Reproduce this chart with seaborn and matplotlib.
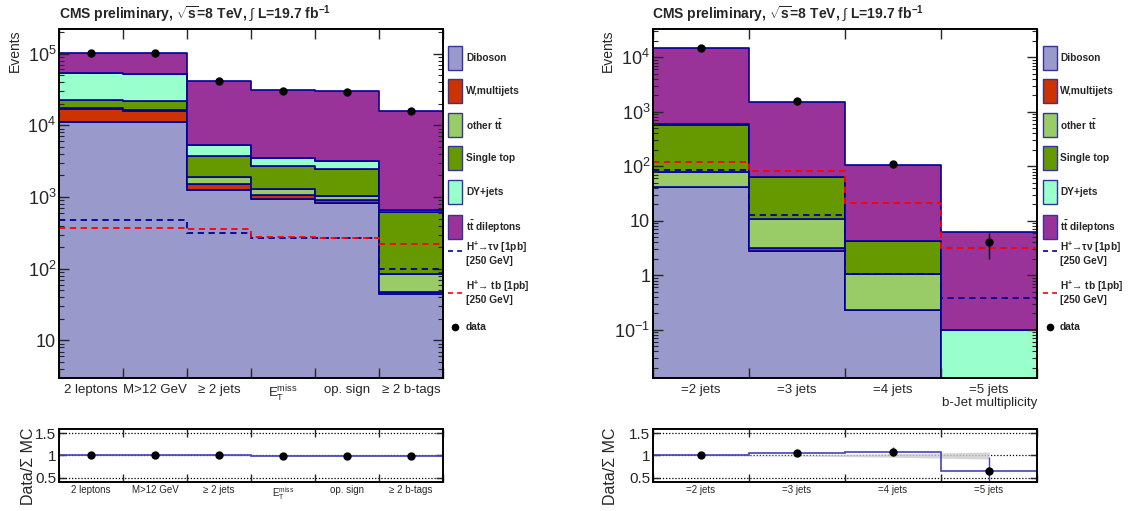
import numpy as np
import pandas as pd
import matplotlib
matplotlib.use("Agg")
import matplotlib.pyplot as plt
import seaborn as sns
from matplotlib.patches import Rectangle
from matplotlib.lines import Line2D
from matplotlib.ticker import LogLocator, NullFormatter

# ---------------- data ----------------
processes = ["Diboson", "W,multijets", "other tt", "Single top", "DY+jets", "tt dileptons"]
legend_labels = ["Diboson", "W,multijets", r"other t$\mathbf{\bar{t}}$", "Single top",
                 "DY+jets", r"t$\mathbf{\bar{t}}$ dileptons"]
colors = ["#9999cc", "#cc3300", "#99cc66", "#669900", "#99ffcc", "#993399"]

# left: cut flow
cut_labels = ["2 leptons", "M>12 GeV", "\u2265 2 jets",
              r"$\mathrm{E}_{\mathrm{T}}^{\mathrm{miss}}$", "op. sign", "\u2265 2 b-tags"]
cut_diboson = [11000, 11000, 1270, 930, 825, 44.8]
cut_wjets = [6000, 4700, 270, 150, 75, 2.2]
cut_other_tt = [500, 500, 360, 200, 130, 38]
cut_single_top = [4800, 5400, 1830, 1430, 1400, 532]
cut_dy = [32000, 31000, 1650, 790, 720, 35]
cut_tt_dilep = [48700, 49400, 36100, 27300, 26850, 15050]
cut_data = [103000, 102000, 41500, 30500, 29500, 15700]
cut_sig_taunu = [484, 484, 315, 271, 265, 98]
cut_sig_tb = [374, 374, 354, 277, 271, 219]
cut_ratio_unc = [0.003, 0.003, 0.005, 0.012, 0.012, 0.01]
cut_yticks = [10, 1e2, 1e3, 1e4, 1e5]
cut_yticklabels = ["10", r"$10^{2}$", r"$10^{3}$", r"$10^{4}$", r"$10^{5}$"]

# right: b-jet multiplicity
jet_labels = ["=2 jets", "=3 jets", "=4 jets", "=5 jets"]
jet_diboson = [41, 2.74, 0.233, 0]
jet_wjets = [1.0, 0.42, 0.0, 0]
jet_other_tt = [36, 7.5, 0.8, 0]
jet_single_top = [483, 52, 3.14, 0]
jet_dy = [31, 0.5, 0.13, 0.1]
jet_tt_dilep = [14000, 1437, 99, 6.1]
jet_data = [14600, 1570, 112, 4]
jet_sig_taunu = [84, 12.9, 1.07, 0.38]
jet_sig_tb = [118, 81, 21.1, 3.16]
jet_ratio_unc = [0.005, 0.01, 0.04, 0.08]
jet_yticks = [0.1, 1, 10, 1e2, 1e3, 1e4]
jet_yticklabels = [r"$10^{-1}$", "1", "10", r"$10^{2}$", r"$10^{3}$", r"$10^{4}$"]

ratio_yticks = [0.5, 1, 1.5]
ratio_yticklabels = ["0.5", "1", "1.5"]

title_text = r"CMS preliminary, $\mathbf{\sqrt{s}}$=8 TeV, $\int$ L=19.7 fb$^{\mathbf{-1}}$"

# ---------------- style ----------------
sns.set_theme(style="ticks")
plt.rcParams["font.family"] = ["Liberation Sans", "DejaVu Sans"]
plt.rcParams["mathtext.fontset"] = "custom"
plt.rcParams["mathtext.rm"] = "Liberation Sans"
plt.rcParams["mathtext.it"] = "Liberation Sans:italic"
plt.rcParams["mathtext.bf"] = "Liberation Sans:bold"
plt.rcParams["axes.linewidth"] = 1.4
plt.rcParams["axes.axisbelow"] = False

W, H = 1129, 511
fig = plt.figure(figsize=(W / 100, H / 100), dpi=100)
fig.patch.set_facecolor("white")

EDGE = "#000099"
SIG_BLUE = "#000099"
SIG_RED = "#ff0000"
RATIO_BLUE = "#4444bb"


def fx(p):
    return p / W


def fy(p):
    return 1 - p / H


def add_px_axes(x0, y0, x1, y1):
    return fig.add_axes([fx(x0), fy(y1), (x1 - x0) / W, (y1 - y0) / H])


def style_spines(ax):
    ax.set_axisbelow(False)
    for s in ax.spines.values():
        s.set_visible(True)
        s.set_color("black")
        s.set_zorder(10)


def draw_main(ax, comps, data, sig_taunu, sig_tb, ylim, yticks, yticklabels, xlabels):
    n = len(data)
    edges = np.arange(n + 1)
    centers = edges[:-1] + 0.5
    rows = []
    for proc, vals in zip(processes, comps):
        for c, v in zip(centers, vals):
            rows.append({"bin": c, "events": v, "process": proc})
    df = pd.DataFrame(rows)
    ax.set_yscale("log")
    sns.histplot(data=df, x="bin", weights="events", hue="process",
                 hue_order=processes[::-1], palette=dict(zip(processes, colors)),
                 multiple="stack", element="step", bins=[float(e) for e in edges],
                 fill=True, alpha=1, edgecolor=EDGE, linewidth=1.2, legend=False, ax=ax)
    ax.stairs(sig_taunu, edges, baseline=None, color=SIG_BLUE, lw=1.3,
              linestyle=(0, (3.5, 2.5)), zorder=5)
    ax.stairs(sig_tb, edges, baseline=None, color=SIG_RED, lw=1.3,
              linestyle=(0, (3.5, 2.5)), zorder=5)
    ax.errorbar(centers, data, yerr=np.sqrt(np.array(data, float)), fmt="o",
                color="black", ms=5, elinewidth=1.0, capsize=0, zorder=6)
    ax.set_xlim(0, n)
    ax.set_ylim(*ylim)
    ax.set_yticks(yticks)
    ax.set_yticklabels(yticklabels)
    ax.yaxis.set_minor_locator(LogLocator(base=10, subs=np.arange(2, 10), numticks=100))
    ax.yaxis.set_minor_formatter(NullFormatter())
    ax.set_xticks(edges)
    ax.set_xticklabels([])
    ax.set_xticks(centers, minor=True)
    ax.set_xticklabels(xlabels, minor=True)
    ax.tick_params(axis="x", which="major", direction="in", length=7, width=1.0,
                   top=True, bottom=True)
    ax.tick_params(axis="x", which="minor", length=0, labelsize=9.5, pad=4)
    ax.tick_params(axis="y", which="major", direction="in", length=7, width=1.0,
                   left=True, right=True, labelsize=13, pad=2)
    ax.tick_params(axis="y", which="minor", direction="in", length=3.5, width=0.8,
                   left=True, right=True)
    ax.set_xlabel("")
    ax.set_ylabel("")
    style_spines(ax)


def draw_ratio(ax, comps, data, unc, xlabels):
    n = len(data)
    edges = np.arange(n + 1)
    centers = edges[:-1] + 0.5
    mc = np.sum(np.array(comps, float), axis=0)
    d = np.array(data, float)
    ratio = d / mc
    rerr = np.sqrt(d) / mc
    unc = np.array(unc)
    for yv in ratio_yticks:
        ax.axhline(yv, color="black", lw=0.9, linestyle=(0, (1, 1.5)), zorder=1)
    ax.fill_between(centers, 1 - unc, 1 + unc, color="#cccccc", alpha=0.8, lw=0, zorder=2)
    ax.stairs(ratio, edges, baseline=None, color=RATIO_BLUE, lw=1.2, zorder=3)
    ax.errorbar(centers, ratio, yerr=rerr, fmt="o", color="black", ecolor=RATIO_BLUE,
                ms=5, elinewidth=1.0, capsize=0, zorder=4)
    ax.set_xlim(0, n)
    ax.set_ylim(0.4, 1.6)
    ax.set_yticks(ratio_yticks)
    ax.set_yticklabels(ratio_yticklabels)
    ax.set_xticks(edges)
    ax.set_xticklabels([])
    ax.set_xticks(centers, minor=True)
    ax.set_xticklabels(xlabels, minor=True)
    ax.tick_params(axis="x", which="major", direction="in", length=6, width=1.0,
                   top=True, bottom=True)
    ax.tick_params(axis="x", which="minor", length=0, labelsize=7, pad=2)
    ax.tick_params(axis="y", which="major", direction="in", length=5, width=1.0,
                   left=True, right=True, labelsize=11, pad=2)
    style_spines(ax)


def draw_legend(box_x0, text_x):
    centers_y = [58, 91, 125, 158, 192, 227]
    for lab, col, cy in zip(legend_labels, colors, centers_y):
        fig.add_artist(Rectangle((fx(box_x0), fy(cy + 12)), 14 / W, 24 / H,
                                 transform=fig.transFigure, facecolor=col,
                                 edgecolor="#333399", lw=1.0))
        fig.text(fx(text_x), fy(cy), lab, fontsize=7.3, fontweight="bold",
                 ha="left", va="center")
    sig = [("H$^{\\mathbf{+}}$\u2192\u03c4\u03bd [1pb]", SIG_BLUE, 251, 253),
           ("H$^{\\mathbf{+}}$\u2192 tb [1pb]", SIG_RED, 293, 292)]
    for lab, col, ly, ty in sig:
        fig.add_artist(Line2D([fx(box_x0), fx(box_x0 + 14)], [fy(ly), fy(ly)],
                              transform=fig.transFigure, color=col, lw=1.2,
                              linestyle=(0, (3, 2.5))))
        fig.text(fx(text_x), fy(ty), lab + "\n[250 GeV]", fontsize=7.3,
                 fontweight="bold", ha="left", va="center", linespacing=1.15)
    fig.add_artist(Line2D([fx(box_x0 + 7)], [fy(327)], transform=fig.transFigure,
                          marker="o", color="black", ms=4.5, lw=0))
    fig.text(fx(text_x), fy(327), "data", fontsize=7.3, fontweight="bold",
             ha="left", va="center")


left_comps = [cut_diboson, cut_wjets, cut_other_tt, cut_single_top, cut_dy, cut_tt_dilep]
right_comps = [jet_diboson, jet_wjets, jet_other_tt, jet_single_top, jet_dy, jet_tt_dilep]

axL = add_px_axes(59, 29, 443, 378)
draw_main(axL, left_comps, cut_data, cut_sig_taunu, cut_sig_tb, (3, 2.2e5),
          cut_yticks, cut_yticklabels, cut_labels)
axR = add_px_axes(653, 29, 1037, 378)
draw_main(axR, right_comps, jet_data, jet_sig_taunu, jet_sig_tb, (0.013, 3.3e4),
          jet_yticks, jet_yticklabels, jet_labels)

rL = add_px_axes(59, 429, 443, 482)
draw_ratio(rL, left_comps, cut_data, cut_ratio_unc, cut_labels)
rR = add_px_axes(653, 429, 1037, 482)
draw_ratio(rR, right_comps, jet_data, jet_ratio_unc, jet_labels)

draw_legend(448, 466)
draw_legend(1043, 1060)

# titles and axis labels
fig.text(fx(59), fy(14), title_text, fontsize=10, fontweight="bold", ha="left", va="center")
fig.text(fx(652), fy(14), title_text, fontsize=10, fontweight="bold", ha="left", va="center")
fig.text(fx(15), fy(29), "Events", fontsize=10, rotation=90, ha="center", va="top")
fig.text(fx(608), fy(29), "Events", fontsize=10, rotation=90, ha="center", va="top")
fig.text(fx(29), fy(466), "Data/\u03a3 MC", fontsize=11.5, rotation=90, ha="center", va="center")
fig.text(fx(611), fy(466), "Data/\u03a3 MC", fontsize=11.5, rotation=90, ha="center", va="center")
fig.text(fx(1037), fy(403), "b-Jet multiplicity", fontsize=9.6, ha="right", va="center")

fig.savefig("out.png", dpi=100, facecolor="white")
